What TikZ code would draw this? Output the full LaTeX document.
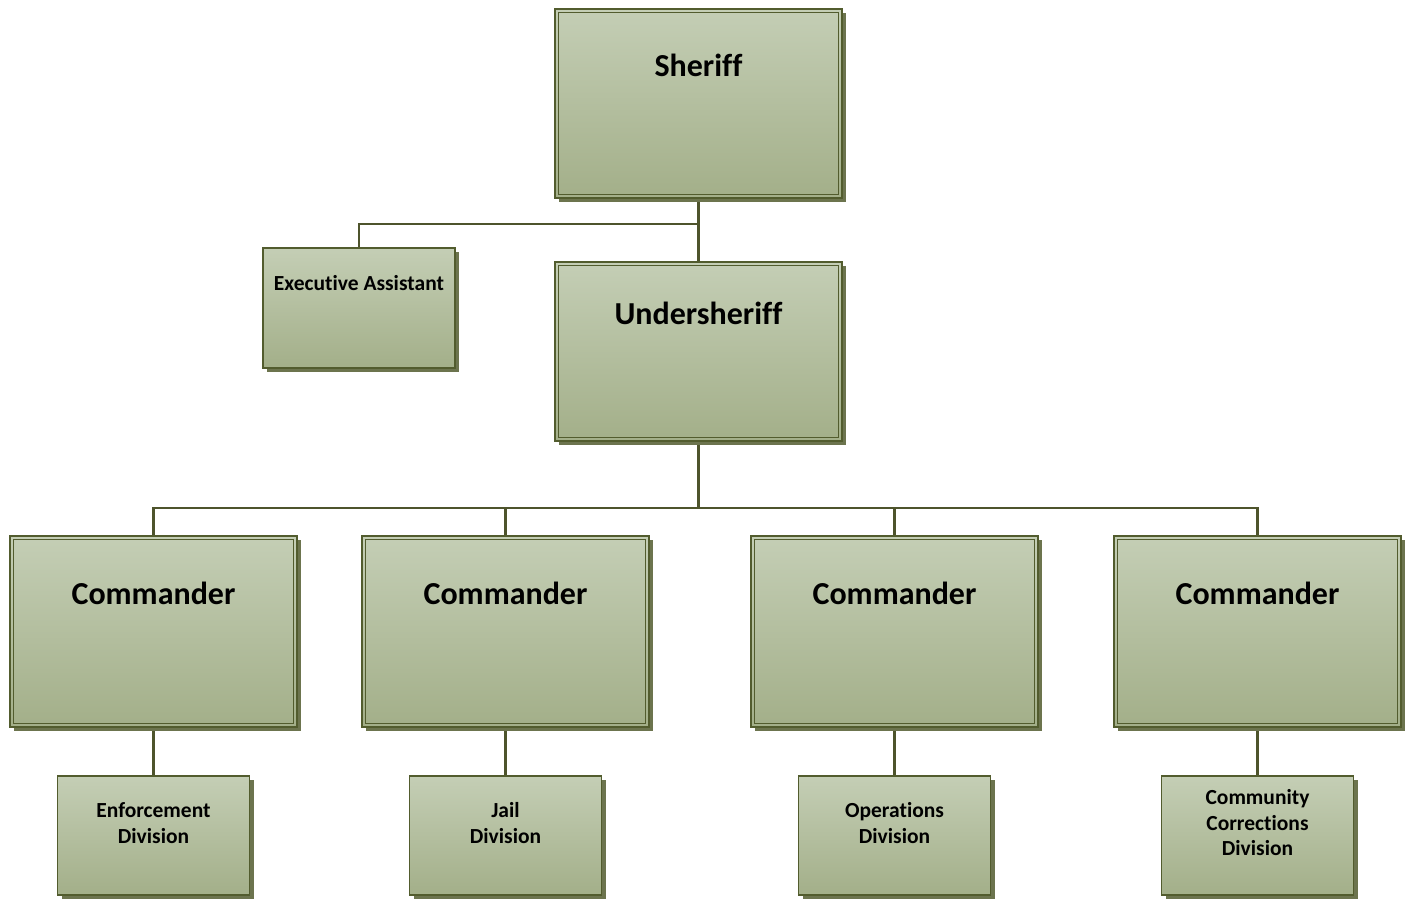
\documentclass[tikz,border=0pt]{standalone}
\usepackage{fontspec}
\setmainfont[Ligatures=NoCommon]{Carlito}
\usetikzlibrary{shadows,backgrounds}
\definecolor{boxtop}{RGB}{196,206,181}
\definecolor{boxbot}{RGB}{163,175,137}
\definecolor{boxline}{RGB}{82,92,46}
\definecolor{connline}{RGB}{78,84,44}
\definecolor{shadowc}{RGB}{108,116,78}
\tikzset{
  box/.style={rectangle, draw=boxline, line width=1.6pt, inner sep=0pt,
    top color=boxtop, bottom color=boxbot,
    drop shadow={shadow xshift=4pt, shadow yshift=-4pt, fill=shadowc, opacity=1}},
  bigbox/.style={box, minimum width=287pt},
  smallbox/.style={box, minimum width=192pt},
  inner/.style={draw=boxline, line width=1.2pt},
  conn/.style={draw=connline, line width=2.8pt},
  bigtext/.style={font=\bfseries\fontsize{32}{38}\selectfont, inner sep=0pt, align=center},
  smalltext/.style={font=\bfseries\fontsize{21.5}{25.5}\selectfont, inner sep=0pt, align=center}
}
\begin{document}
\begin{tikzpicture}[x=1pt,y=-1pt]
\useasboundingbox (0,0) rectangle (1413,898);
% boxes
\node[bigbox, minimum height=189pt] (sheriff) at (698.5,103.5) {};
\node[smallbox, minimum height=120pt] (ea) at (359,308) {};
\node[bigbox, minimum height=179pt] (under) at (698.5,351.5) {};
\node[bigbox, minimum height=191pt] (c1) at (153.5,631.5) {};
\node[bigbox, minimum height=191pt] (c2) at (505.5,631.5) {};
\node[bigbox, minimum height=191pt] (c3) at (894.5,631.5) {};
\node[bigbox, minimum height=191pt] (c4) at (1257.5,631.5) {};
\node[smallbox, minimum height=119pt] (d1) at (153.5,835.5) {};
\node[smallbox, minimum height=119pt] (d2) at (505.5,835.5) {};
\node[smallbox, minimum height=119pt] (d3) at (894.5,835.5) {};
\node[smallbox, minimum height=119pt] (d4) at (1257.5,835.5) {};
% inner borders of the big boxes
\foreach \n in {sheriff,under,c1,c2,c3,c4}
  \draw[inner] ([xshift=4.5pt,yshift=-4.5pt]\n.north west) rectangle ([xshift=-4.5pt,yshift=4.5pt]\n.south east);
% texts
\node[bigtext] (sheriff-t) at (698.5,65) {Sheriff};
\node[bigtext] (under-t) at (698.5,313) {Undersheriff};
\node[smalltext] (ea-t) at (359,283) {Executive Assistant};
\foreach \n/\x in {c1/153.5,c2/505.5,c3/894.5,c4/1257.5}
  \node[bigtext] (\n-t) at (\x,593) {Commander};
\node[smalltext] (d1-t) at (153.5,823) {Enforcement\\Division};
\node[smalltext] (d2-t) at (505.5,823) {Jail\\Division};
\node[smalltext] (d3-t) at (894.5,823) {Operations\\Division};
\node[smalltext] (d4-t) at (1257.5,823) {Community\\Corrections\\Division};
% connectors
\coordinate (j1) at (698.5,224);
\coordinate (j2) at (698.5,508);
\begin{pgfonlayer}{background}
\draw[conn] (sheriff.south) -- (under.north);
\draw[conn] (j1) -| (ea.north);
\draw[conn] (under.south) -- (j2);
\draw[conn] (c1.north) |- (j2) -| (c4.north);
\draw[conn] (c2.north) -- (c2.north |- j2);
\draw[conn] (c3.north) -- (c3.north |- j2);
\draw[conn] (c1.south) -- (d1.north);
\draw[conn] (c2.south) -- (d2.north);
\draw[conn] (c3.south) -- (d3.north);
\draw[conn] (c4.south) -- (d4.north);
\end{pgfonlayer}
\end{tikzpicture}
\end{document}
